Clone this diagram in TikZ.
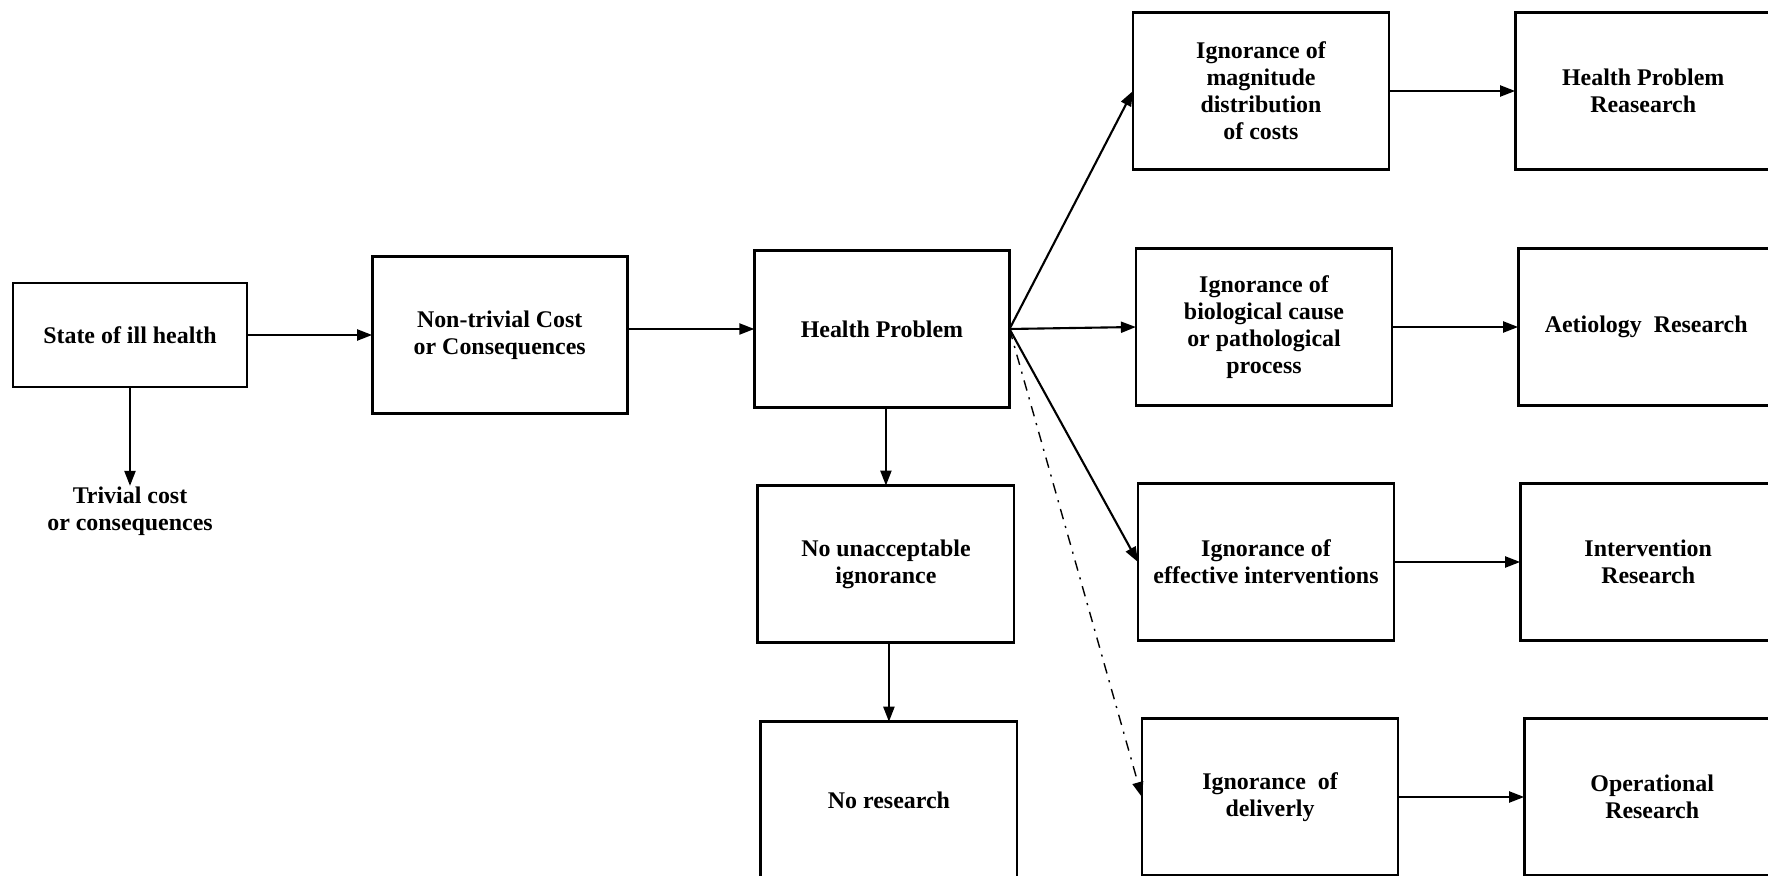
\documentclass[tikz,border=0pt]{standalone}
\usepackage{fontspec}
\setmainfont{Liberation Serif}
\usepackage{tikz}
\usetikzlibrary{arrows.meta, positioning}

\newcommand{\boxfont}{\fontsize{6.8}{7.7}\selectfont\bfseries}

\begin{document}
\begin{tikzpicture}[x=0.01cm, y=-0.01cm,
        box/.style={draw, rectangle, line width=0.8pt, outer sep=0pt, align=center, font=\boxfont, minimum width=2.56cm, minimum height=1.57cm, inner sep=2pt},
        plaintext/.style={align=center, font=\boxfont, inner sep=0pt},
        arrow/.style={-{Triangle[length=1.5mm, width=1.1mm]}, line width=0.6pt}
    ]
        \useasboundingbox (0,0) rectangle (1768,876);
        \clip (0,0) rectangle (1768,876);

        % Left chain
        \node[box, minimum width=2.34cm, minimum height=1.04cm] (state) at (130,335) {State of ill health};
        \node[plaintext] (trivial) at (130,511) {Trivial cost\\or consequences};
        \node[box, right=1.25cm of state, minimum width=2.55cm] (nontrivial) {Non-trivial Cost\\or Consequences};
        \node[box, right=1.27cm of nontrivial, yshift=0.06cm, minimum width=2.55cm] (health) {Health Problem};
        \node[box, below=0.78cm of health, xshift=0.04cm] (noignorance) {No unacceptable\\ignorance};
        \node[box, below=0.79cm of noignorance, xshift=0.03cm] (noresearch) {No research};

        % Ignorance column
        \node[box] (magnitude) at (1261,91) {Ignorance of\\magnitude\\distribution\\of costs};
        \node[box] (cause) at (1264,327) {Ignorance of\\biological cause\\or pathological\\process};
        \node[box] (effective) at (1266,562) {Ignorance of\\effective interventions};
        \node[box] (delivery) at (1270,797) {Ignorance \ of\\deliverly};

        % Research column
        \node[box, right=1.26cm of magnitude] (hpresearch) {Health Problem\\Reasearch};
        \node[box, right=1.26cm of cause] (aetiology) {Aetiology \ Research};
        \node[box, right=1.26cm of effective] (intervention) {Intervention\\Research};
        \node[box, right=1.26cm of delivery] (operational) {Operational\\Research};

        \draw[arrow] (state) -- (nontrivial);
        \draw[arrow] (state) -- (trivial);
        \draw[arrow] (nontrivial.east |- health) -- (health);
        \draw[arrow] (health.south -| noignorance.north) -- (noignorance);
        \draw[arrow] (noignorance.south -| noresearch.north) -- (noresearch);

        % Fan out
        \draw[arrow] (health.east) -- (magnitude.west);
        \draw[arrow] (health.east) -- (cause.west);
        \draw[arrow] (health.east) -- (effective.west);
        \draw[arrow, dash dot, line width=0.4pt] (health.east) -- (delivery.west);

        \draw[arrow] (magnitude) -- (hpresearch);
        \draw[arrow] (cause) -- (aetiology);
        \draw[arrow] (effective) -- (intervention);
        \draw[arrow] (delivery) -- (operational);
    \end{tikzpicture}
\end{document}
